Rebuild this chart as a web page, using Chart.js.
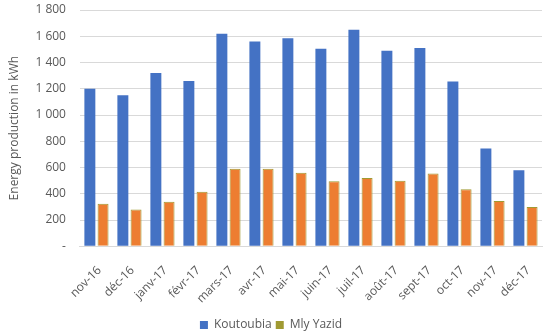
<!DOCTYPE html>
<html>
<head>
<meta charset="utf-8">
<script src="https://cdn.jsdelivr.net/npm/chart.js@4"></script>
<style>
  html, body { margin: 0; padding: 0; background: #fff; }
  #wrap { width: 550px; height: 332px; position: relative; }
</style>
</head>
<body>
<div id="wrap"><canvas id="chart1"></canvas></div>
<script>
const months = ['nov-16', 'déc-16', 'janv-17', 'févr-17', 'mars-17', 'avr-17', 'mai-17',
  'juin-17', 'juil-17', 'août-17', 'sept-17', 'oct-17', 'nov-17', 'déc-17'];
const koutoubia = [1200, 1150, 1320, 1260, 1620, 1560, 1585, 1505, 1650, 1490, 1510, 1255, 745, 580];
const mlyYazid = [325, 280, 340, 415, 590, 590, 560, 495, 520, 500, 555, 435, 345, 300];
const yTicks = [0, 200, 400, 600, 800, 1000, 1200, 1400, 1600, 1800];

const grey = '#595959';
const font = { family: 'Open Sans', size: 12 };

function fmt(v) {
  if (v === 0) return '-';
  return String(v).replace(/\B(?=(\d{3})+(?!\d))/g, ' ');
}

const chart1 = new Chart(document.getElementById('chart1'), {
  type: 'bar',
  data: {
    labels: months,
    datasets: [{
      label: 'Koutoubia',
      data: koutoubia,
      backgroundColor: '#4472C4',
      borderWidth: 0
    }, {
      label: 'Mly Yazid',
      data: mlyYazid,
      backgroundColor: '#ED7D31',
      borderColor: '#A09A32',
      borderWidth: 1
    }]
  },
  options: {
    responsive: true,
    maintainAspectRatio: false,
    animation: false,
    layout: { padding: { top: 0, right: 8, left: 0, bottom: -9 } },
    datasets: { bar: { categoryPercentage: 0.8, barPercentage: 0.83 } },
    plugins: {
      tooltip: { enabled: false },
      legend: {
        position: 'bottom',
        labels: {
          color: grey,
          font: font,
          boxWidth: 8,
          boxHeight: 8,
          padding: 4,
          generateLabels: function (chart) {
            const fills = ['#4472C4', '#A09A32'];
            return chart.data.datasets.map(function (ds, i) {
              return { text: ds.label, fillStyle: fills[i], strokeStyle: fills[i], lineWidth: 0, fontColor: grey, datasetIndex: i };
            });
          }
        }
      }
    },
    scales: {
      x: {
        grid: { display: false },
        border: { color: '#d9d9d9' },
        ticks: { color: grey, font: font, minRotation: 45, maxRotation: 45, padding: 9, labelOffset: 3 },
        afterFit: function (axis) { axis.height += 0; }
      },
      y: {
        min: 0,
        max: 1800,
        afterBuildTicks: function (axis) { axis.ticks = yTicks.map(function (v) { return { value: v }; }); },
        afterFit: function (axis) { axis.paddingTop = 10; },
        grid: { color: '#d9d9d9', drawTicks: false },
        border: { display: false },
        ticks: { color: grey, font: font, padding: 14, callback: function (v) { return fmt(v); } },
        title: { display: true, text: 'Energy production in kWh', color: grey, font: font, padding: { top: 7, bottom: 0 } }
      }
    }
  }
});
</script>
</body>
</html>
